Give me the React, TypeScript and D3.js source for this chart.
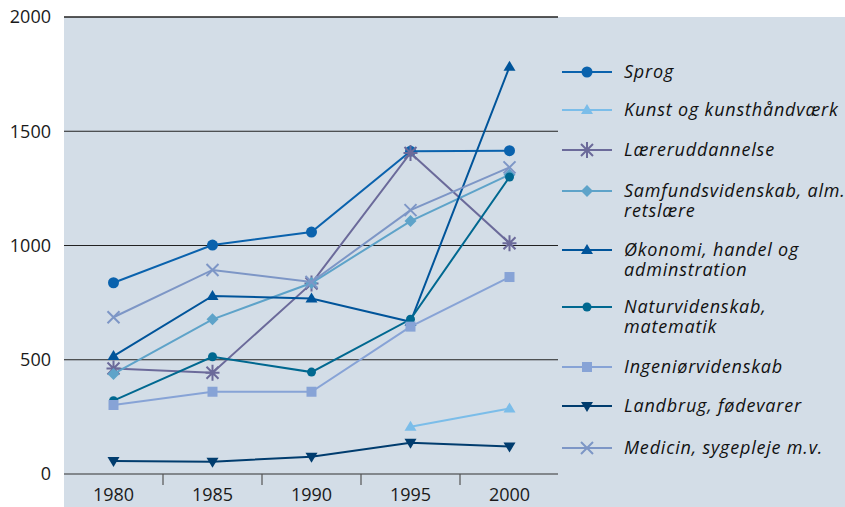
import { useRef, useEffect } from 'react';
import * as d3 from 'd3';

const years = ['1980', '1985', '1990', '1995', '2000'];
const yTicks = [0, 500, 1000, 1500, 2000];

const sprog = [837, 1002, 1059, 1413, 1415];
const kunst = [null, null, null, 207, 287];
const laerer = [462, 443, 834, 1405, 1010];
const samfund = [438, 677, 836, 1107, 1310];
const oekonomi = [516, 779, 768, 666, 1782];
const natur = [321, 513, 446, 677, 1300];
const ingenioer = [302, 360, 360, 645, 862];
const landbrug = [57, 54, 76, 137, 120];
const medicin = [686, 893, 840, 1155, 1342];

const series = [
  { name: ['Sprog'], values: sprog, color: '#0a62ad', marker: 'circle' },
  { name: ['Kunst og kunsthåndværk'], values: kunst, color: '#7bbde9', marker: 'triangle' },
  { name: ['Læreruddannelse'], values: laerer, color: '#6b6a9a', marker: 'asterisk' },
  { name: ['Samfundsvidenskab, alm.', 'retslære'], values: samfund, color: '#5ea3c9', marker: 'diamond' },
  { name: ['Økonomi, handel og', 'adminstration'], values: oekonomi, color: '#00549a', marker: 'triangle' },
  { name: ['Naturvidenskab,', 'matematik'], values: natur, color: '#006890', marker: 'smallcircle' },
  { name: ['Ingeniørvidenskab'], values: ingenioer, color: '#87a3d6', marker: 'square' },
  { name: ['Landbrug, fødevarer'], values: landbrug, color: '#003c6e', marker: 'triangledown' },
  { name: ['Medicin, sygepleje m.v.'], values: medicin, color: '#7d96c6', marker: 'cross' },
];

function drawMarker(g: any, type: string, x: number, y: number, color: string) {
  if (type === 'circle') {
    g.append('circle').attr('cx', x).attr('cy', y).attr('r', 5.5).attr('fill', color);
  } else if (type === 'smallcircle') {
    g.append('circle').attr('cx', x).attr('cy', y).attr('r', 4.5).attr('fill', color);
  } else if (type === 'triangle') {
    g.append('path').attr('transform', `translate(${x},${y})`)
      .attr('d', 'M0,-6L6,4L-6,4Z').attr('fill', color);
  } else if (type === 'triangledown') {
    g.append('path').attr('transform', `translate(${x},${y})`)
      .attr('d', 'M-6,-4L6,-4L0,6Z').attr('fill', color);
  } else if (type === 'square') {
    g.append('rect').attr('x', x - 5).attr('y', y - 5).attr('width', 10).attr('height', 10).attr('fill', color);
  } else if (type === 'diamond') {
    g.append('path').attr('transform', `translate(${x},${y})`)
      .attr('d', 'M0,-6L6,0L0,6L-6,0Z').attr('fill', color);
  } else if (type === 'cross') {
    g.append('path').attr('transform', `translate(${x},${y})`)
      .attr('d', 'M-6,-6L6,6M-6,6L6,-6').attr('stroke', color).attr('stroke-width', 2);
  } else if (type === 'asterisk') {
    g.append('path').attr('transform', `translate(${x},${y})`)
      .attr('d', 'M-6,-6L6,6M-6,6L6,-6M-7,0L7,0M0,-8L0,8').attr('stroke', color).attr('stroke-width', 2);
  }
}

function LineChart() {
  const svgRef = useRef<SVGSVGElement>(null);

  useEffect(() => {
    const width = 845;
    const height = 507;
    const left = 64;
    const right = 558;
    const top = 17;
    const bottom = 474;
    const font = '"Open Sans", "DejaVu Sans", sans-serif';

    const svg = d3.select(svgRef.current).attr('viewBox', [0, 0, width, height]);
    svg.selectAll('*').remove();

    //Background
    svg.append('rect').attr('x', left).attr('y', top).attr('width', width - left).attr('height', height - top)
      .attr('fill', '#d3dde7');

    const x = d3.scaleBand().domain(years).range([left, right + 1]);
    const y = d3.scaleLinear().domain([0, 2000]).range([bottom, top]);

    //Grid lines and y labels
    yTicks.forEach(t => {
      svg.append('line').attr('x1', left).attr('x2', right).attr('y1', y(t)).attr('y2', y(t))
        .attr('stroke', t === 0 ? '#333' : '#222').attr('stroke-width', t === 2000 ? 1.5 : 1.2);
      svg.append('text').attr('x', 51).attr('y', y(t)).attr('dy', '0.35em')
        .attr('text-anchor', 'end').attr('font-family', font).attr('font-size', 18)
        .attr('fill', '#1a1a1a').text(t);
    });

    //X ticks between bands
    years.slice(1).forEach(yr => {
      const xt = x(yr)!;
      svg.append('line').attr('x1', xt).attr('x2', xt).attr('y1', bottom).attr('y2', bottom + 11)
        .attr('stroke', '#555').attr('stroke-width', 1.2);
    });
    years.forEach(yr => {
      svg.append('text').attr('x', x(yr)! + x.bandwidth() / 2).attr('y', 495).attr('dy', '0.35em')
        .attr('text-anchor', 'middle').attr('font-family', font).attr('font-size', 18)
        .attr('fill', '#1a1a1a').text(yr);
    });

    //Lines
    const line = d3.line<any>()
      .defined(d => d.v != null)
      .x(d => x(d.year)! + x.bandwidth() / 2)
      .y(d => y(d.v));

    series.forEach(s => {
      const pts = years.map((yr, i) => ({ year: yr, v: s.values[i] }));
      const g = svg.append('g');
      g.append('path').datum(pts).attr('d', line).attr('fill', 'none')
        .attr('stroke', s.color).attr('stroke-width', 2);
      pts.filter(p => p.v != null).forEach(p => {
        drawMarker(g, s.marker, x(p.year)! + x.bandwidth() / 2, y(p.v as number), s.color);
      });
    });

    //Legend
    const legendY = [72, 110, 150, 191, 250, 307, 367, 406, 448];
    series.forEach((s, i) => {
      const ly = legendY[i];
      const g = svg.append('g');
      g.append('line').attr('x1', 562).attr('x2', 612).attr('y1', ly).attr('y2', ly)
        .attr('stroke', s.color).attr('stroke-width', 2);
      drawMarker(g, s.marker, 587, ly, s.color);
      const txt = g.append('text').attr('x', 624).attr('y', ly)
        .attr('font-family', font).attr('font-size', 18).attr('font-style', 'italic')
        .attr('letter-spacing', 0.8).attr('fill', '#111');
      s.name.forEach((n, j) => {
        txt.append('tspan').attr('x', 624).attr('y', ly + j * 19.5).attr('dy', '0.35em').text(n);
      });
    });
  }, []);

  return <svg ref={svgRef} width={845} height={507} style={{ position: 'absolute', left: 0, top: 0 }} />;
}

export default function App() {
  return <LineChart />;
}
